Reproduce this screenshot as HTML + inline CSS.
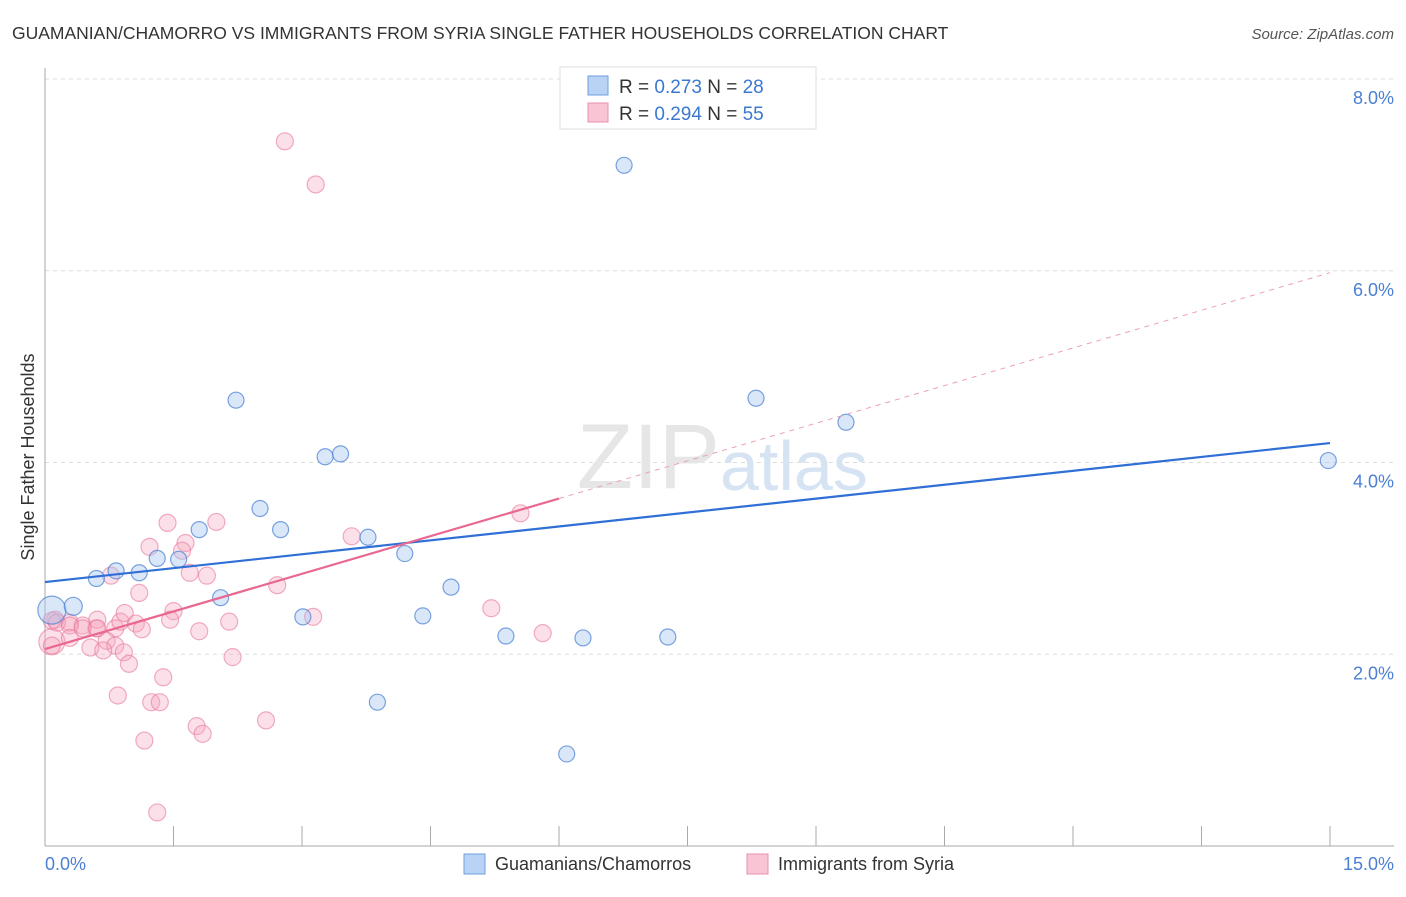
<!DOCTYPE html>
<html><head><meta charset="utf-8"><style>
body{margin:0;background:#fff;font-family:"Liberation Sans",sans-serif}
svg text{font-family:"Liberation Sans",sans-serif}
</style></head><body>
<svg width="1406" height="892" viewBox="0 0 1406 892">
<text x="12" y="39" font-size="17.5" fill="#333">GUAMANIAN/CHAMORRO VS IMMIGRANTS FROM SYRIA SINGLE FATHER HOUSEHOLDS CORRELATION CHART</text>
<text x="1394" y="39" font-size="15" fill="#555" font-style="italic" text-anchor="end">Source: ZipAtlas.com</text>
<g id="grid"></g>
<text x="720" y="488" font-size="92" fill="#e6e6e6" text-anchor="end" font-family="Liberation Serif">ZIP</text>
<text x="720" y="490" font-size="70" fill="#d5e3f3">atlas</text>
<line x1="45" y1="68" x2="45" y2="846" stroke="#aaa"/>
<line x1="45" y1="846" x2="1394" y2="846" stroke="#aaa"/>
<g id="ticks"></g>
<g id="ylabels"></g>
<text x="45" y="870" font-size="18" fill="#4a7fd4">0.0%</text>
<text x="1394" y="870" font-size="18" fill="#4a7fd4" text-anchor="end">15.0%</text>
<text transform="translate(34,457) rotate(-90)" font-size="18" fill="#333" text-anchor="middle">Single Father Households</text>
<g id="pts"></g>
<g id="lines"></g>
<g>
<rect x="560" y="67" width="256" height="62" fill="#fff" stroke="#ddd"/>
<rect x="588" y="76" width="20" height="19" fill="#b8d3f3" stroke="#6f9fdc"/>
<rect x="588" y="103" width="20" height="19" fill="#f9c4d4" stroke="#ea8fab"/>
<text x="619" y="93" font-size="19" fill="#333">R = <tspan fill="#3b78d0">0.273</tspan>   N = <tspan fill="#3b78d0">28</tspan></text>
<text x="619" y="120" font-size="19" fill="#333">R = <tspan fill="#3b78d0">0.294</tspan>   N = <tspan fill="#3b78d0">55</tspan></text>
</g>
<g>
<rect x="464" y="854" width="21" height="20" fill="#b8d3f3" stroke="#6f9fdc"/>
<text x="495" y="870" font-size="18" fill="#333">Guamanians/Chamorros</text>
<rect x="747" y="854" width="21" height="20" fill="#f9c4d4" stroke="#ea8fab"/>
<text x="778" y="870" font-size="18" fill="#333">Immigrants from Syria</text>
</g>
</svg>
<script>
const yTicks=[2,4,6,8];
const yTickLabels=["2.0%","4.0%","6.0%","8.0%"];
const blueX=[0.08,0.33,0.6,0.83,1.1,1.31,1.56,1.8,2.05,2.23,2.51,2.75,3.01,3.27,3.45,3.77,3.88,4.2,4.41,4.74,5.38,6.09,6.28,6.76,7.27,8.3,9.35,14.98];
const blueY=[2.46,2.5,2.79,2.87,2.85,3.0,2.99,3.3,2.59,4.65,3.52,3.3,2.39,4.06,4.09,3.22,1.5,3.05,2.4,2.7,2.19,0.96,2.17,7.1,2.18,4.67,4.42,4.02];
const blueR=[14,9,8,8,8,8,8,8,8,8,8,8,8,8,8,8,8,8,8,8,8,8,8,8,8,8,8,8];
const pinkX=[0.08,0.12,0.29,0.44,0.6,0.82,0.61,0.88,1.43,1.22,2.0,1.64,1.6,0.77,1.69,1.89,2.71,1.1,0.93,1.5,1.06,1.13,1.46,2.15,1.8,3.58,3.13,0.08,0.14,0.29,0.44,0.61,0.29,0.08,0.53,0.72,0.82,0.68,0.92,0.98,2.19,1.38,0.85,1.24,1.34,2.58,1.77,1.84,1.16,1.31,2.8,3.16,5.55,5.21,5.81];
const pinkY=[2.13,2.36,2.33,2.3,2.27,2.27,2.36,2.34,3.37,3.12,3.38,3.16,3.08,2.82,2.85,2.82,2.72,2.64,2.43,2.45,2.32,2.26,2.36,2.34,2.24,3.23,2.39,2.35,2.33,2.3,2.27,2.27,2.17,2.09,2.07,2.14,2.09,2.04,2.02,1.9,1.97,1.76,1.57,1.5,1.5,1.31,1.25,1.17,1.1,0.35,7.35,6.9,3.47,2.48,2.22];
const X=v=>45+v/15*1285, Y=v=>846-v/8*767;
const ns="http://www.w3.org/2000/svg";
function mk(t,a,p){const e=document.createElementNS(ns,t);for(const k in a)e.setAttribute(k,a[k]);p.appendChild(e);return e;}
const grid=document.getElementById('grid'),yl=document.getElementById('ylabels'),tk=document.getElementById('ticks');
yTicks.forEach((t,i)=>{
 const l=mk('line',{x1:45,x2:1394,y1:Y(t),y2:Y(t),stroke:'#ddd','stroke-dasharray':'4,4'},grid);
 
 
 const tx=mk('text',{x:1394,y:Y(t)+25,'font-size':18,fill:'#4a7fd4','text-anchor':'end'},yl);
 tx.textContent=yTickLabels[i];
 
 
});
for(let i=0;i<=10;i++){const l=mk('line',{x1:X(i*1.5),x2:X(i*1.5),y1:826,y2:846,stroke:'#aaa'},tk);
 
 }
const pts=document.getElementById('pts');
pinkX.forEach((x,i)=>{const c=mk('circle',{cx:X(x),cy:Y(pinkY[i]),r:i==0?13:8.5,fill:'rgba(246,166,192,0.35)',stroke:'rgba(232,120,155,0.6)','stroke-width':1.2},pts);
 
 });
blueX.forEach((x,i)=>{const c=mk('circle',{cx:X(x),cy:Y(blueY[i]),r:blueR[i],fill:'rgba(160,196,240,0.4)',stroke:'rgba(70,125,210,0.7)','stroke-width':1.2},pts);
 
 });
function fit(xs,ys){const n=xs.length,mx=xs.reduce((a,b)=>a+b)/n,my=ys.reduce((a,b)=>a+b)/n;let sxy=0,sxx=0;xs.forEach((x,i)=>{sxy+=(x-mx)*(ys[i]-my);sxx+=(x-mx)**2});const b=sxy/sxx;return [my-b*mx,b];}
const ln=document.getElementById('lines');
const [ba,bb]=fit(blueX,blueY),[pa,pb]=fit(pinkX,pinkY);
const bl=mk('line',{x1:X(0),y1:Y(ba),x2:X(15),y2:Y(ba+bb*15),stroke:'#2f6fd6','stroke-width':2.2},ln);


const pl=mk('line',{x1:X(0),y1:Y(pa),x2:X(6),y2:Y(pa+pb*6),stroke:'#e8688f','stroke-width':2.2},ln);


const pd=mk('line',{x1:X(6),y1:Y(pa+pb*6),x2:X(15),y2:Y(pa+pb*15),stroke:'#eaa0b8','stroke-width':1,'stroke-dasharray':'5,5'},ln);


</script>
</body></html>
